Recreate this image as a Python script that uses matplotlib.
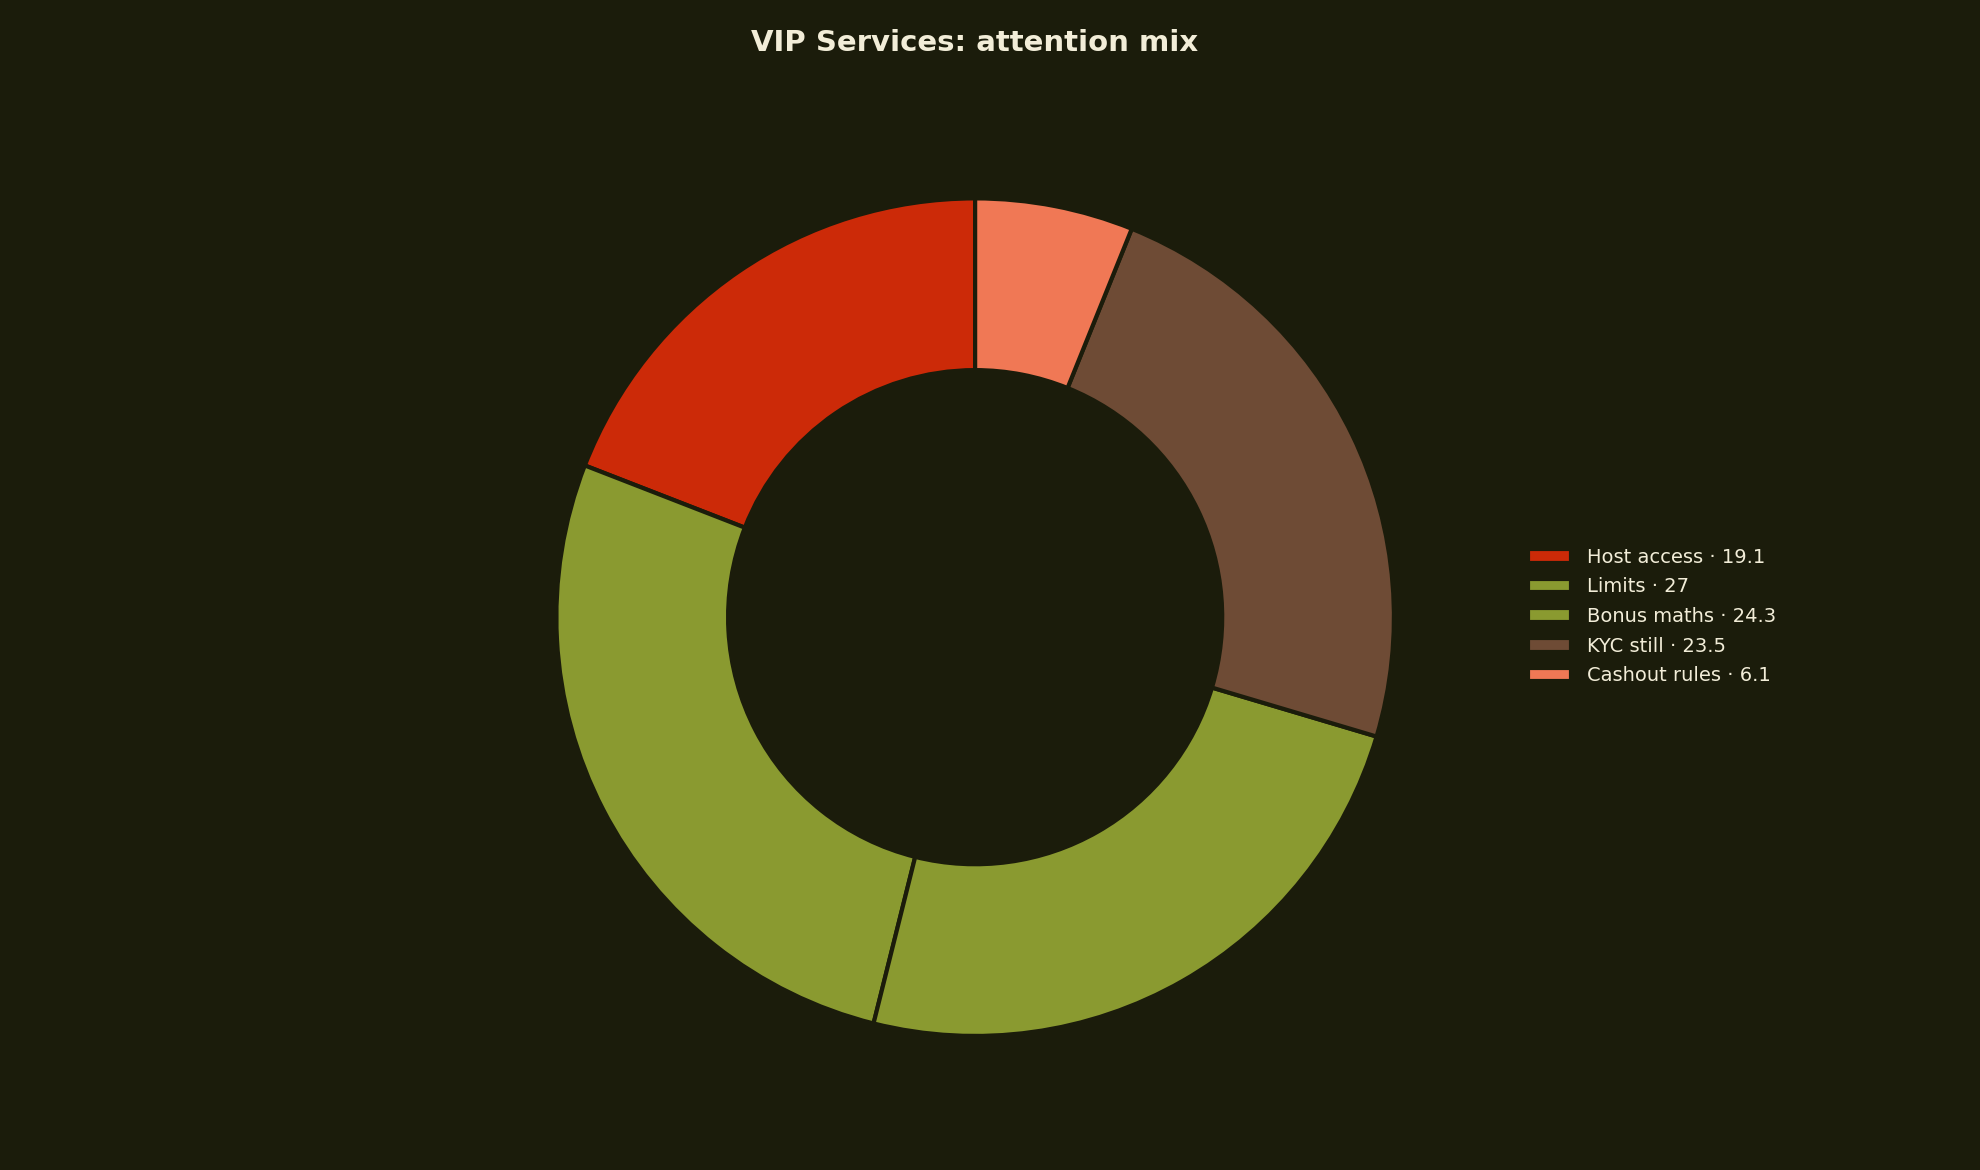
import matplotlib
matplotlib.use("Agg")
import matplotlib.pyplot as plt

labels = ["Host access", "Limits", "Bonus maths", "KYC still", "Cashout rules"]
values = [19.1, 27, 24.3, 23.5, 6.1]
colors = ["#CC2A08", "#8A9A30", "#8A9A30", "#6E4B35", "#F07855"]
bg = "#1B1C0B"
fg = "#F2EDD8"

fig = plt.figure(figsize=(19.8, 11.7), dpi=100, facecolor=bg)
ax = fig.add_axes([0.281, 0.1145, 0.423, 0.716])
ax.set_facecolor(bg)
wedges, _ = ax.pie(values, colors=colors, startangle=90, counterclock=True,
                   radius=1, wedgeprops=dict(width=0.41, edgecolor=bg, linewidth=3))
ax.set_aspect("equal")
ax.set_xlim(-1, 1); ax.set_ylim(-1, 1)
ax.axis("off")

fig.text(0.492, 0.963, "VIP Services: attention mix", ha="center", va="center",
         color=fg, fontsize=21, fontweight="bold")

leg = fig.legend(wedges, [f"{l} · {v:g}" for l, v in zip(labels, values)],
                 loc="center left", bbox_to_anchor=(0.763, 0.473), frameon=False,
                 fontsize=14, labelcolor=fg, handlelength=2.2, handleheight=0.7,
                 labelspacing=0.55)
fig.savefig("out.png", facecolor=bg)
